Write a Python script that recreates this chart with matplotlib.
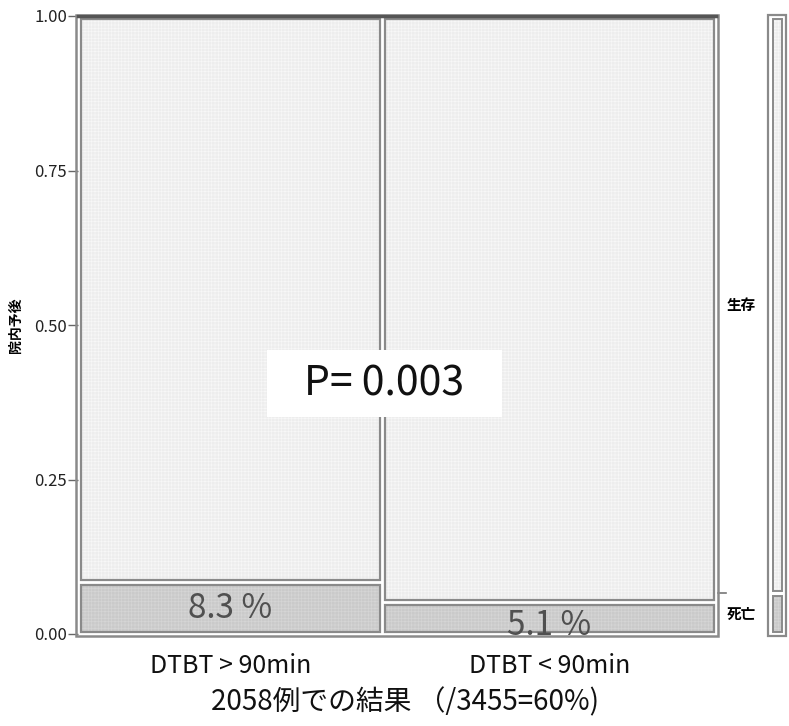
import matplotlib.pyplot as plt
from matplotlib.patches import Rectangle

plt.rcParams['font.family'] = ['Noto Sans CJK JP', 'DejaVu Sans']
plt.rcParams['hatch.linewidth'] = 0.5

# 2058 cases, split by door-to-balloon time
groups = ["DTBT > 90min", "DTBT < 90min"]
group_n = [982, 1076]
death_pct = [8.3, 5.1]
outcomes = ["生存", "死亡"]
yticks = [0.0, 0.25, 0.50, 0.75, 1.0]
p_text = "P= 0.003"
caption = "2058例での結果 （/3455=60%)"

W, H = 789, 726
fig = plt.figure(figsize=(W / 100, H / 100), dpi=100)


def px_axes(x0, y0, x1, y1):
    return fig.add_axes([x0 / W, 1 - y1 / H, (x1 - x0) / W, (y1 - y0) / H])


surv_fc = "#ededed"
death_fc = "#cacaca"
edge = "#8a8a8a"


def cell(a, xy, w, h, fc, hc, lw=1.6, clip=True):
    # textured fill (hatch takes the edge colour) plus a separate border
    a.add_patch(Rectangle(xy, w, h, facecolor=fc, edgecolor=hc, lw=0,
                          hatch="+++++", zorder=2, clip_on=clip))
    a.add_patch(Rectangle(xy, w, h, fill=False, edgecolor=edge, lw=lw,
                          zorder=3, clip_on=clip))


ax = px_axes(78, 16, 716, 634)
ax.set_xlim(0, 1)
ax.set_ylim(0, 1)
for s in ax.spines.values():
    s.set_visible(False)

gx, gy = 2.5 / 638, 2.5 / 618
total = sum(group_n)
x = 0.0
centers = []
for n, pct in zip(group_n, death_pct):
    w = n / total
    d = pct / 100
    cell(ax, (x + gx, gy), w - 2 * gx, d - 2 * gy, death_fc, "#d5d5d5")
    cell(ax, (x + gx, d + gy), w - 2 * gx, 1 - d - 2 * gy, surv_fc, "#f7f7f7")
    ax.text(x + w / 2, d / 2 - (0.012 if d < 0.06 else 0), f"{pct} %",
            ha="center", va="center", fontsize=24, color="#505050", zorder=4)
    centers.append(x + w / 2)
    x += w

# outer frame
ax.add_patch(Rectangle((-2 / 638, -2 / 618), 1 + 4 / 638, 1 + 3 / 618,
                       fill=False, edgecolor="#8a8a8a", lw=1.8,
                       clip_on=False, zorder=3))
ax.plot([0, 1], [1.0, 1.0], color="#555555", lw=2.5, clip_on=False, zorder=3)

ax.set_yticks(yticks)
ax.set_yticklabels([f"{t:.2f}" for t in yticks], fontsize=12, color="#222222")
ax.tick_params(axis="y", length=7, width=1, color="#666666", pad=1)
ax.set_xticks(centers)
ax.set_xticklabels(groups, fontsize=18, color="#111111")
ax.tick_params(axis="x", length=0, pad=14)
ax.set_ylabel("院内予後", fontsize=10, fontweight="bold", labelpad=8)

# p-value label on a white box
ax.add_patch(Rectangle((0.296, 0.351), 0.368, 0.108, facecolor="white",
                       edgecolor="none", zorder=5))
ax.text(0.480, 0.405, p_text, ha="center", va="center", fontsize=29.5,
        color="#111111", zorder=6)

# overall death rate marker on the right edge
overall = sum(n * p / 100 for n, p in zip(group_n, death_pct)) / total
ax.plot([1.003, 1.016], [overall, overall], color="#777777", lw=1.2,
        clip_on=False)

ax.text(1.039, (1 + overall) / 2, outcomes[0], ha="center", va="center",
        fontsize=10.5, fontweight="bold")
ax.text(1.039, overall / 2, outcomes[1], ha="center", va="center",
        fontsize=10.5, fontweight="bold")

# marginal bar
ax2 = px_axes(768, 16, 786, 634)
ax2.set_xlim(0, 1)
ax2.set_ylim(0, 1)
ax2.axis("off")
ax2.add_patch(Rectangle((0, -2 / 618), 1, 1 + 3 / 618, fill=False,
                        edgecolor=edge, lw=1.6, clip_on=False))
cell(ax2, (0.25, gy), 0.5, overall - 2 * gy, death_fc, "#d5d5d5",
     lw=1.4, clip=False)
cell(ax2, (0.25, overall + gy), 0.5, 1 - overall - 2 * gy, surv_fc,
     "#f7f7f7", lw=1.4, clip=False)

fig.text(405 / W, 1 - 702 / H, caption, ha="center", va="center",
         fontsize=20, color="#111111")

fig.savefig("out.png", dpi=100)
